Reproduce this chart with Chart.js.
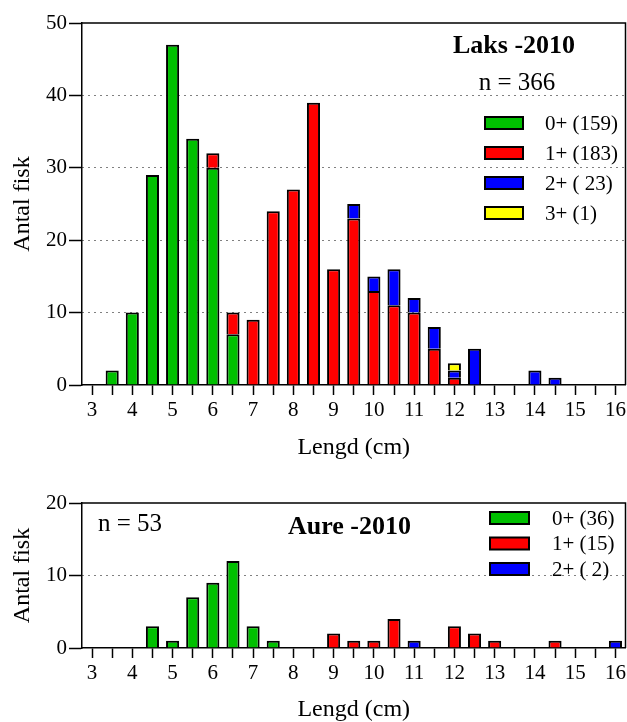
<!DOCTYPE html>
<html>
<head>
<meta charset="utf-8">
<title>Laks og aure 2010 – lengdefordeling</title>
<script src="https://cdn.jsdelivr.net/npm/chart.js@4"></script>
<style>
  html, body { margin: 0; padding: 0; background: #fff; }
  .panel { position: absolute; left: 0; width: 627px; }
  #laksWrap { top: 0; height: 470px; }
  #aureWrap { top: 470px; height: 252px; }
</style>
</head>
<body>
<div class="panel" id="laksWrap"><canvas id="laksChart" width="627" height="470"></canvas></div>
<div class="panel" id="aureWrap"><canvas id="aureChart" width="627" height="252"></canvas></div>
<script>
// ── DATA ──
const lengthBins = [3, 3.5, 4, 4.5, 5, 5.5, 6, 6.5, 7, 7.5, 8, 8.5, 9, 9.5,
                    10, 10.5, 11, 11.5, 12, 12.5, 13, 13.5, 14, 14.5, 15, 15.5, 16];

// Laks (salmon), number of fish per age group
const laksAge0 = [0, 2, 10, 29, 47, 34, 30, 7, 0, 0, 0, 0, 0, 0, 0, 0, 0, 0, 0, 0, 0, 0, 0, 0, 0, 0, 0];
const laksAge1 = [0, 0, 0, 0, 0, 0, 2, 3, 9, 24, 27, 39, 16, 23, 13, 11, 10, 5, 1, 0, 0, 0, 0, 0, 0, 0, 0];
const laksAge2 = [0, 0, 0, 0, 0, 0, 0, 0, 0, 0, 0, 0, 0, 2, 2, 5, 2, 3, 1, 5, 0, 0, 2, 1, 0, 0, 0];
const laksAge3 = [0, 0, 0, 0, 0, 0, 0, 0, 0, 0, 0, 0, 0, 0, 0, 0, 0, 0, 1, 0, 0, 0, 0, 0, 0, 0, 0];
const laksLabels = ['0+ (159)', '1+ (183)', '2+ ( 23)', '3+ (1)'];
const laksYTicks = [0, 10, 20, 30, 40, 50];

// Aure (trout)
const aureAge0 = [0, 0, 0, 3, 1, 7, 9, 12, 3, 1, 0, 0, 0, 0, 0, 0, 0, 0, 0, 0, 0, 0, 0, 0, 0, 0, 0];
const aureAge1 = [0, 0, 0, 0, 0, 0, 0, 0, 0, 0, 0, 0, 2, 1, 1, 4, 0, 0, 3, 2, 1, 0, 0, 1, 0, 0, 0];
const aureAge2 = [0, 0, 0, 0, 0, 0, 0, 0, 0, 0, 0, 0, 0, 0, 0, 0, 1, 0, 0, 0, 0, 0, 0, 0, 0, 0, 1];
const aureLabels = ['0+ (36)', '1+ (15)', '2+ ( 2)'];
const aureYTicks = [0, 10, 20];

const ageColors = ['#00c000', '#ff0000', '#0000ff', '#ffff00'];
const SERIF = '"Liberation Serif", "Times New Roman", serif';

// ── FRAME, TITLES AND LEGEND (drawn inside the plot box) ──
function panelDecor(opts) {
  return {
    id: 'panelDecor',
    afterDraw(chart) {
      const { ctx, chartArea: a } = chart;
      ctx.save();
      ctx.strokeStyle = '#000';
      ctx.lineWidth = 1.5;
      ctx.beginPath();
      ctx.moveTo(a.left, a.top);
      ctx.lineTo(a.right, a.top);
      ctx.lineTo(a.right, a.bottom);
      ctx.stroke();

      ctx.fillStyle = '#000';
      ctx.textBaseline = 'alphabetic';
      opts.texts.forEach(t => {
        ctx.font = t.font;
        ctx.textAlign = t.align || 'left';
        ctx.fillText(t.text, t.x, t.y);
      });

      const lg = opts.legend;
      ctx.font = `21px ${SERIF}`;
      ctx.textBaseline = 'middle';
      ctx.textAlign = 'left';
      ctx.lineWidth = 2;
      chart.data.datasets.forEach((ds, i) => {
        const y = lg.y + i * lg.step;
        ctx.fillStyle = ds.backgroundColor;
        ctx.fillRect(lg.x, y - 6, lg.w, 12);
        ctx.strokeRect(lg.x, y - 6, lg.w, 12);
        ctx.fillStyle = '#000';
        ctx.fillText(ds.label, lg.textX, y + 1);
      });
      ctx.restore();
    }
  };
}

// ── STACKED LENGTH HISTOGRAM ──
function histogram(canvasId, cfg) {
  const yMax = cfg.yTicks[cfg.yTicks.length - 1];
  return new Chart(document.getElementById(canvasId), {
    type: 'bar',
    data: {
      labels: lengthBins.map(String),
      datasets: cfg.series.map((vals, i) => ({
        label: cfg.labels[i],
        data: vals.map(v => v || null),
        backgroundColor: ageColors[i],
        borderColor: '#000',
        borderWidth: 2,
        borderSkipped: 'start',
        barPercentage: 0.65,
        categoryPercentage: 1
      }))
    },
    options: {
      responsive: false,
      devicePixelRatio: 1,
      animation: false,
      layout: { padding: { top: cfg.padTop, right: 1.5, left: 0, bottom: 0 } },
      plugins: { legend: { display: false }, tooltip: { enabled: false } },
      scales: {
        x: {
          stacked: true,
          offset: true,
          grid: { offset: false, drawOnChartArea: false, tickLength: 10, tickColor: '#000', tickWidth: 1.5 },
          border: { color: '#000', width: 1.5 },
          ticks: {
            autoSkip: false, maxRotation: 0, minRotation: 0, padding: 3, color: '#000',
            font: { family: SERIF, size: 21 },
            callback: (v, i) => Number.isInteger(lengthBins[i]) ? String(lengthBins[i]) : ''
          },
          title: {
            display: true, text: 'Lengd (cm)', color: '#000',
            font: { family: SERIF, size: 24, lineHeight: 1 },
            padding: { top: 0, bottom: cfg.xTitlePad }
          },
          afterFit: s => { s.height = cfg.xAxisHeight; s.paddingLeft = 0; s.paddingRight = 0; }
        },
        y: {
          stacked: true,
          min: 0,
          max: yMax,
          afterBuildTicks: s => { s.ticks = cfg.yTicks.map(v => ({ value: v })); },
          grid: {
            color: c => (c.tick && c.tick.value > 0 && c.tick.value < yMax) ? '#000' : 'rgba(0,0,0,0)',
            lineWidth: 1, tickLength: 13, tickColor: '#000', tickWidth: 1.5
          },
          border: { color: '#000', width: 1.5, dash: [1, 5] },
          ticks: { padding: 2, color: '#000', font: { family: SERIF, size: 21 } },
          title: {
            display: true, text: 'Antal fisk', color: '#000',
            font: { family: SERIF, size: 24, lineHeight: 1.2 },
            padding: { top: 8, bottom: 0 }
          },
          afterFit: s => { s.width = 82; }
        }
      }
    },
    plugins: [panelDecor(cfg.decor)]
  });
}

histogram('laksChart', {
  series: [laksAge0, laksAge1, laksAge2, laksAge3],
  labels: laksLabels,
  yTicks: laksYTicks,
  padTop: 23,
  xAxisHeight: 85,
  xTitlePad: 10,
  decor: {
    texts: [
      { text: 'Laks -2010', x: 514, y: 53, align: 'center', font: `bold 26px ${SERIF}` },
      { text: 'n = 366', x: 517, y: 90, align: 'center', font: `25px ${SERIF}` }
    ],
    legend: { x: 485, w: 38, y: 123, step: 30, textX: 545 }
  }
});

histogram('aureChart', {
  series: [aureAge0, aureAge1, aureAge2],
  labels: aureLabels,
  yTicks: aureYTicks,
  padTop: 33,
  xAxisHeight: 74,
  xTitlePad: 0,
  decor: {
    texts: [
      { text: 'n = 53', x: 98, y: 61, align: 'left', font: `25px ${SERIF}` },
      { text: 'Aure -2010', x: 288, y: 64, align: 'left', font: `bold 26px ${SERIF}` }
    ],
    legend: { x: 490, w: 39, y: 48, step: 25.5, textX: 552 }
  }
});
</script>
</body>
</html>
